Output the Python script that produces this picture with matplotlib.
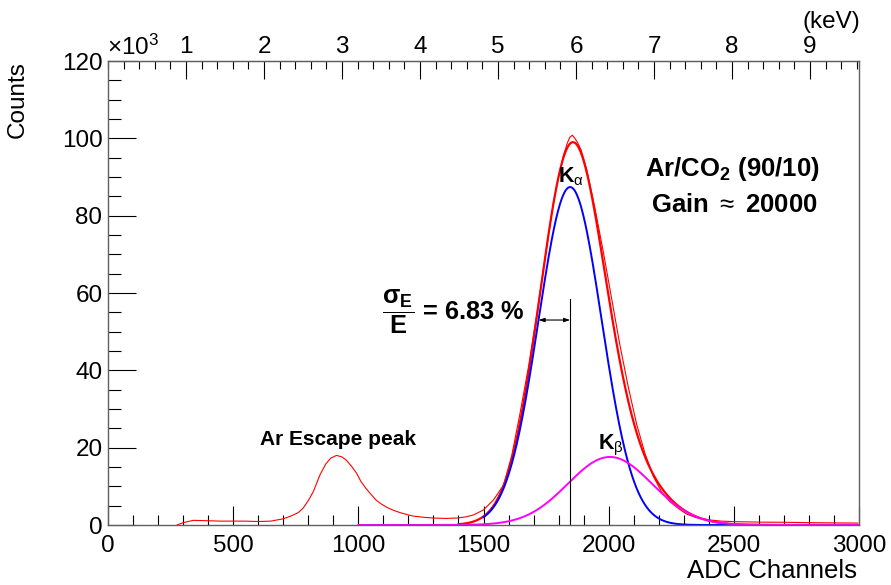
import numpy as np
import matplotlib
matplotlib.use("Agg")
import matplotlib.pyplot as plt
from matplotlib.ticker import MultipleLocator

plt.rcParams['font.family'] = ['Liberation Sans', 'DejaVu Sans']
plt.rcParams['mathtext.fontset'] = 'custom'
plt.rcParams['mathtext.rm'] = 'Liberation Sans'
plt.rcParams['mathtext.bf'] = 'Liberation Sans:bold'
plt.rcParams['mathtext.it'] = 'Liberation Sans:italic'

# measured spectrum (ADC channel, counts in units of 1e3)
hist_ch = [276, 300, 340, 400, 450, 500, 550, 600, 650, 700, 730, 760, 780, 800,
           820, 847, 870, 890, 913, 935, 953, 975, 993, 1010, 1030, 1047, 1070,
           1090, 1113, 1140, 1167, 1200, 1220, 1260, 1300, 1350, 1393, 1430, 1460,
           1500, 1540, 1580, 1613, 1646, 1680, 1713, 1746, 1779, 1800, 1819, 1835,
           1845, 1855, 1865, 1875, 1890, 1912, 1945, 1979, 2012, 2045, 2079, 2112,
           2145, 2179, 2212, 2245, 2280, 2312, 2350, 2405, 2450, 2511, 2600, 2711,
           2800, 2900, 2995]
hist_k = [0.0, 0.6, 1.2, 1.1, 1.0, 1.0, 1.0, 0.9, 1.0, 1.6, 2.3, 3.2, 4.4, 6.3,
          8.6, 13.0, 15.8, 17.3, 18.0, 17.6, 16.7, 15.0, 13.4, 11.3, 9.5, 8.2, 6.5,
          5.5, 4.6, 3.8, 3.2, 2.6, 2.3, 2.0, 1.8, 1.7, 1.8, 2.1, 2.6,
          3.9, 6.5, 10.3, 18.0, 28.9, 41.0, 54.5, 69.0, 83.2, 90.0, 95.5, 98.8,
          100.3, 100.8, 100.0, 99.0, 97.0, 92.0, 82.0, 70.5, 58.5, 46.5, 35.5, 26.0,
          18.5, 12.5, 8.5, 6.0, 4.2, 2.8, 1.9, 1.3, 1.0, 0.85, 0.75, 0.7,
          0.6, 0.55, 0.5]

# gaussian fit results
resolution = 0.0683          # sigma_E / E
ka_amp, ka_mean = 87.4, 1846.0
ka_sigma = resolution * ka_mean
kb_amp, kb_mean, kb_sigma = 17.6, 2005.0, 168.0
ka_range = (1500, 2500)
kb_range = (1000, 3000)
sum_range = (1400, 3000)
marker_top = 58.5

ch_per_kev = 311.6


def gaus(x, a, m, s):
    return a * np.exp(-0.5 * ((x - m) / s) ** 2)


fig = plt.figure(figsize=(8.91, 5.85), dpi=100)
ax = fig.add_axes([108 / 891, 1 - 525 / 585, 751 / 891, 464 / 585])

ax.plot(hist_ch, hist_k, color='#ff0000', lw=0.8)

xs = np.linspace(*sum_range, 801)
ax.plot(xs, gaus(xs, ka_amp, ka_mean, ka_sigma) + gaus(xs, kb_amp, kb_mean, kb_sigma),
        color='#ff0000', lw=1.6)
xa = np.linspace(*ka_range, 501)
ax.plot(xa, gaus(xa, ka_amp, ka_mean, ka_sigma), color='#0000ff', lw=1.4)
xb = np.linspace(*kb_range, 1001)
ax.plot(xb, gaus(xb, kb_amp, kb_mean, kb_sigma), color='#ff00ff', lw=1.4)

# resolution marker
ax.plot([ka_mean, ka_mean], [0, marker_top], color='black', lw=0.8)
y_arrow = gaus(ka_mean - ka_sigma, ka_amp, ka_mean, ka_sigma)
ax.annotate('', xy=(ka_mean - ka_sigma, y_arrow), xytext=(ka_mean, y_arrow),
            arrowprops=dict(arrowstyle='<|-|>,head_length=0.35,head_width=0.12',
                            color='black', lw=0.8, shrinkA=0, shrinkB=0))

ax.set_xlim(0, 3000)
ax.set_ylim(0, 120)

lab = 17.5
ax.xaxis.set_major_locator(MultipleLocator(500))
ax.xaxis.set_minor_locator(MultipleLocator(100))
ax.yaxis.set_major_locator(MultipleLocator(20))
ax.yaxis.set_minor_locator(MultipleLocator(5))
ax.tick_params(axis='x', which='both', direction='in', top=False, labelsize=lab, pad=7)
ax.tick_params(axis='y', which='both', direction='in', right=False, labelsize=lab, pad=4)
ax.tick_params(axis='x', which='major', length=14, width=0.8)
ax.tick_params(axis='x', which='minor', length=7, width=0.8)
ax.tick_params(axis='y', which='major', length=20, width=0.8)
ax.tick_params(axis='y', which='minor', length=9, width=0.8)
for sp in ax.spines.values():
    sp.set_color('#606060')
    sp.set_linewidth(1.0)

top = ax.secondary_xaxis('top', functions=(lambda c: c / ch_per_kev,
                                           lambda e: e * ch_per_kev))
top.xaxis.set_major_locator(MultipleLocator(1))
top.xaxis.set_minor_locator(MultipleLocator(0.2))
top.tick_params(which='both', direction='in', labelsize=lab, pad=2)
top.tick_params(which='major', length=13, width=0.8)
top.tick_params(which='minor', length=6, width=0.8)
top.spines['top'].set_color('#606060')
top.set_xticks(np.arange(1, 10))

fig.text(857 / 891, 1 - 571 / 585, 'ADC Channels', ha='right', va='center', fontsize=18.5)
fig.text(29 / 891, 1 - 61 / 585, 'Counts', rotation=90, ha='right', va='top', fontsize=17.5)
fig.text(107 / 891, 1 - 60 / 585, r'$\times$10$^{3}$', ha='left', va='bottom', fontsize=lab)
fig.text(860 / 891, 1 - 22 / 585, '(keV)', ha='right', va='center', fontsize=lab)

ax.text(919, 22, 'Ar Escape peak', ha='center', va='center', fontsize=15, fontweight='bold')
ax.text(1798, 90, r'$\mathbf{K}_{\mathrm{\alpha}}$', ha='left', va='center', fontsize=15.5)
ax.text(1958, 20.7, r'$\mathbf{K}_{\mathrm{\beta}}$', ha='left', va='center', fontsize=15.5)
ax.text(2493, 92, r'Ar/CO$_{\mathbf{2}}$ (90/10)', ha='center', va='center',
        fontsize=18.5, fontweight='bold')
ax.text(2502, 82.8, r'Gain $\approx$ 20000', ha='center', va='center',
        fontsize=18.5, fontweight='bold')
ax.text(1095, 55, r'$\mathbf{\dfrac{\sigma_{E}}{E}}$ = %.2f %%' % (resolution * 100),
        ha='left', va='center', fontsize=18.3, fontweight='bold')

fig.savefig('out.png', dpi=100)
